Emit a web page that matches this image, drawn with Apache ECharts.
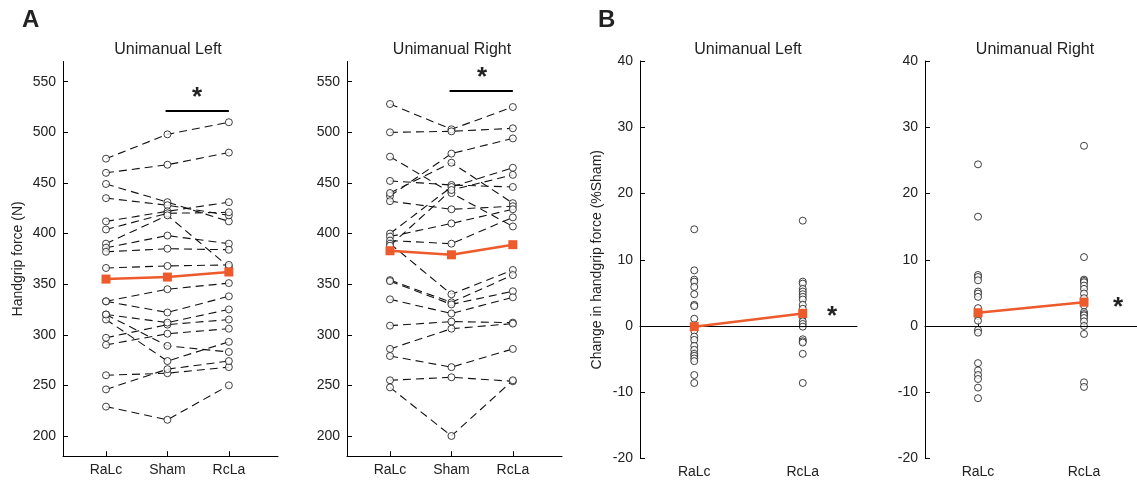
<!DOCTYPE html>
<html><head><meta charset="utf-8">
<script src="https://cdn.jsdelivr.net/npm/echarts@6/dist/echarts.min.js"></script>
<style>html,body{margin:0;padding:0;background:#fff}#c{width:1137px;height:487px}</style>
</head><body><div id="c"></div>
<script>
// ---------- data ----------
const conditionsA = ['RaLc', 'Sham', 'RcLa'];
const conditionsB = ['RaLc', 'RcLa'];
const forceTicks = [200, 250, 300, 350, 400, 450, 500, 550];
const changeTicks = [-20, -10, 0, 10, 20, 30, 40];

// Panel A, Unimanual Left (one entry per participant)
const leftRaLc = [474, 460, 449, 435, 412, 404, 390, 386, 382, 366, 333, 333, 320, 315, 297, 290, 320, 260, 246, 229];
const leftSham = [498, 468, 431, 428, 422, 420, 418, 398, 385, 368, 345, 322, 289, 274, 310, 301, 312, 262, 266, 216];
const leftRcLa = [510, 480, 412, 418, 431, 421, 367, 390, 384, 369, 351, 338, 283, 293, 315, 306, 325, 268, 274, 250];
const leftMean = [355, 357, 362];

// Panel A, Unimanual Right
const rightRaLc = [528, 500, 476, 452, 437, 440, 432, 400, 397, 393, 390, 388, 354, 353, 335, 309, 286, 279, 255, 248];
const rightSham = [503, 501, 440, 448, 479, 470, 424, 446, 410, 390, 340, 443, 332, 330, 321, 313, 306, 268, 258, 200];
const rightRcLa = [525, 504, 407, 446, 494, 430, 427, 465, 424, 416, 364, 458, 359, 343, 337, 312, 311, 286, 254, 255];
const rightMean = [383, 379, 389];

// Panel B, change in handgrip force (%Sham)
const chgLeftRaLc = [14.6, 8.4, 7.0, 6.7, 5.9, 4.8, 3.2, 3.0, 1.1, -0.7, -1.6, -2.1, -3.0, -3.6, -4.2, -4.5, -4.9, -5.3, -7.4, -8.6];
const chgLeftRcLa = [15.9, 6.7, 6.4, 5.6, 5.2, 4.8, 4.4, 4.0, 3.2, 2.6, 1.8, 1.4, 0.7, 0.3, -0.1, -2.0, -2.3, -2.5, -4.2, -8.6];
const chgLeftMean = [-0.1, 1.9];
const chgRightRaLc = [24.4, 16.5, 7.7, 7.4, 6.9, 5.2, 4.9, 4.4, 2.7, 2.0, 1.5, 0.8, -0.6, -1.0, -5.6, -6.7, -7.4, -8.0, -9.3, -10.9];
const chgRightRcLa = [27.2, 10.4, 7.0, 6.8, 6.6, 6.1, 5.6, 4.9, 4.2, 3.5, 3.1, 2.1, 1.8, 1.6, 1.2, 0.7, 0.0, -1.2, -8.5, -9.2];
const chgRightMean = [2.0, 3.6];

// significance bar heights (N) in panel A
const sigBarLeft = 521;
const sigBarRight = 541;

// ---------- style ----------
const FONT = 'Liberation Sans, Arial, Helvetica, sans-serif';
const TXT = '#222';
const ORANGE = '#ED5A2B';

function xAxisA(gi) {
  return {
    type: 'value', gridIndex: gi, min: 0.3, max: 3.8,
    axisLine: { lineStyle: { color: '#000', width: 1 } },
    axisTick: { inside: true, length: 5, lineStyle: { color: '#000' }, customValues: [1, 2, 3] },
    axisLabel: { customValues: [1, 2, 3], formatter: v => conditionsA[Math.round(v) - 1], color: TXT, fontSize: 14, fontFamily: FONT, margin: 7 },
    splitLine: { show: false }
  };
}
function xAxisB(gi) {
  return {
    type: 'value', gridIndex: gi, min: 0.5, max: 2.5,
    axisLine: { lineStyle: { color: '#000', width: 1 } },
    axisTick: { inside: true, length: 5, lineStyle: { color: '#000' }, customValues: [1, 2] },
    axisLabel: { customValues: [1, 2], formatter: v => conditionsB[Math.round(v) - 1], color: TXT, fontSize: 14, fontFamily: FONT, margin: 7 },
    splitLine: { show: false }
  };
}
function yAxisA(gi, name) {
  return {
    type: 'value', gridIndex: gi, min: 180, max: 570,
    name: name, nameLocation: 'middle', nameGap: 38,
    nameTextStyle: { color: TXT, fontSize: 14, fontFamily: FONT },
    axisLine: { show: true, lineStyle: { color: '#000', width: 1 } },
    axisTick: { show: true, inside: true, length: 5, lineStyle: { color: '#000' }, customValues: forceTicks },
    axisLabel: { customValues: forceTicks, color: TXT, fontSize: 14, fontFamily: FONT, margin: 7 },
    splitLine: { show: false }
  };
}
function yAxisB(gi, name) {
  return {
    type: 'value', gridIndex: gi, min: -20, max: 40, interval: 10,
    name: name, nameLocation: 'middle', nameGap: 36,
    nameTextStyle: { color: TXT, fontSize: 14, fontFamily: FONT },
    axisLine: { show: true, lineStyle: { color: '#000', width: 1 } },
    axisTick: { show: true, inside: true, length: 5, lineStyle: { color: '#000' } },
    axisLabel: { customValues: changeTicks, color: TXT, fontSize: 14, fontFamily: FONT, margin: 7 },
    splitLine: { show: false }
  };
}

function subjectLines(gi, a, b, c) {
  return a.map((v, i) => ({
    type: 'line', xAxisIndex: gi, yAxisIndex: gi, silent: true,
    data: [[1, a[i]], [2, b[i]], [3, c[i]]],
    showSymbol: false, symbol: 'none',
    lineStyle: { color: '#111', width: 1.1, type: [8, 5] }, z: 2, animation: false
  }));
}
function circles(gi, cols) {
  const pts = [];
  cols.forEach((arr, k) => arr.forEach(v => pts.push([k + 1, v])));
  return {
    type: 'scatter', xAxisIndex: gi, yAxisIndex: gi, silent: true, data: pts,
    symbol: 'circle', symbolSize: 7,
    itemStyle: { color: '#fff', borderColor: '#111', borderWidth: 1 }, z: 3, animation: false
  };
}
function meanLine(gi, means, extra) {
  return Object.assign({
    type: 'line', xAxisIndex: gi, yAxisIndex: gi, silent: true,
    data: means.map((m, i) => [i + 1, m]),
    symbol: 'rect', symbolSize: 9, showSymbol: true,
    itemStyle: { color: ORANGE }, lineStyle: { color: ORANGE, width: 2.5 }, z: 5, animation: false
  }, extra || {});
}
function sigBar(y) {
  return {
    markLine: {
      silent: true, symbol: 'none', label: { show: false },
      lineStyle: { color: '#000', width: 2.2, type: 'solid' },
      data: [[{ coord: [1.97, y] }, { coord: [3, y] }]], animation: false
    }
  };
}
function zeroLine() {
  return {
    markLine: {
      silent: true, symbol: 'none', label: { show: false },
      lineStyle: { color: '#000', width: 1, type: 'solid' },
      data: [{ yAxis: 0 }], animation: false
    }
  };
}

function txt(x, y, s, size, weight, align, vAlign) {
  return { type: 'text', silent: true, style: { x: x, y: y, text: s, fill: TXT,
    font: (weight || 'normal') + ' ' + size + 'px ' + FONT, textAlign: align || 'center', textVerticalAlign: vAlign || 'middle' }, z: 10 };
}

const option = {
  backgroundColor: '#fff',
  animation: false,
  grid: [
    { left: 63, top: 61.5, width: 215, height: 394.7 },
    { left: 347, top: 61.5, width: 215, height: 394.7 },
    { left: 640, top: 61, width: 217, height: 397.5 },
    { left: 925, top: 61, width: 218, height: 397.5 }
  ],
  xAxis: [xAxisA(0), xAxisA(1), xAxisB(2), xAxisB(3)],
  yAxis: [yAxisA(0, 'Handgrip force (N)'), yAxisA(1, ''), yAxisB(2, 'Change in handgrip force (%Sham)'), yAxisB(3, '')],
  series: [
    ...subjectLines(0, leftRaLc, leftSham, leftRcLa),
    circles(0, [leftRaLc, leftSham, leftRcLa]),
    meanLine(0, leftMean, sigBar(sigBarLeft)),
    ...subjectLines(1, rightRaLc, rightSham, rightRcLa),
    circles(1, [rightRaLc, rightSham, rightRcLa]),
    meanLine(1, rightMean, sigBar(sigBarRight)),
    circles(2, [chgLeftRaLc, chgLeftRcLa]),
    meanLine(2, chgLeftMean, zeroLine()),
    circles(3, [chgRightRaLc, chgRightRcLa]),
    meanLine(3, chgRightMean, zeroLine())
  ],
  graphic: [
    txt(22, 20, 'A', 24, 'bold', 'left'),
    txt(598, 20, 'B', 24, 'bold', 'left'),
    txt(168, 50, 'Unimanual Left', 16),
    txt(452, 50, 'Unimanual Right', 16),
    txt(748, 50, 'Unimanual Left', 16),
    txt(1035, 50, 'Unimanual Right', 16),
    txt(197, 98, '*', 26, 'bold'),
    txt(482, 78, '*', 26, 'bold'),
    txt(832, 317, '*', 26, 'bold'),
    txt(1118, 308, '*', 26, 'bold')
  ]
};

const chart = echarts.init(document.getElementById('c'), null, { renderer: 'canvas' });
chart.setOption(option);
</script>
</body></html>
